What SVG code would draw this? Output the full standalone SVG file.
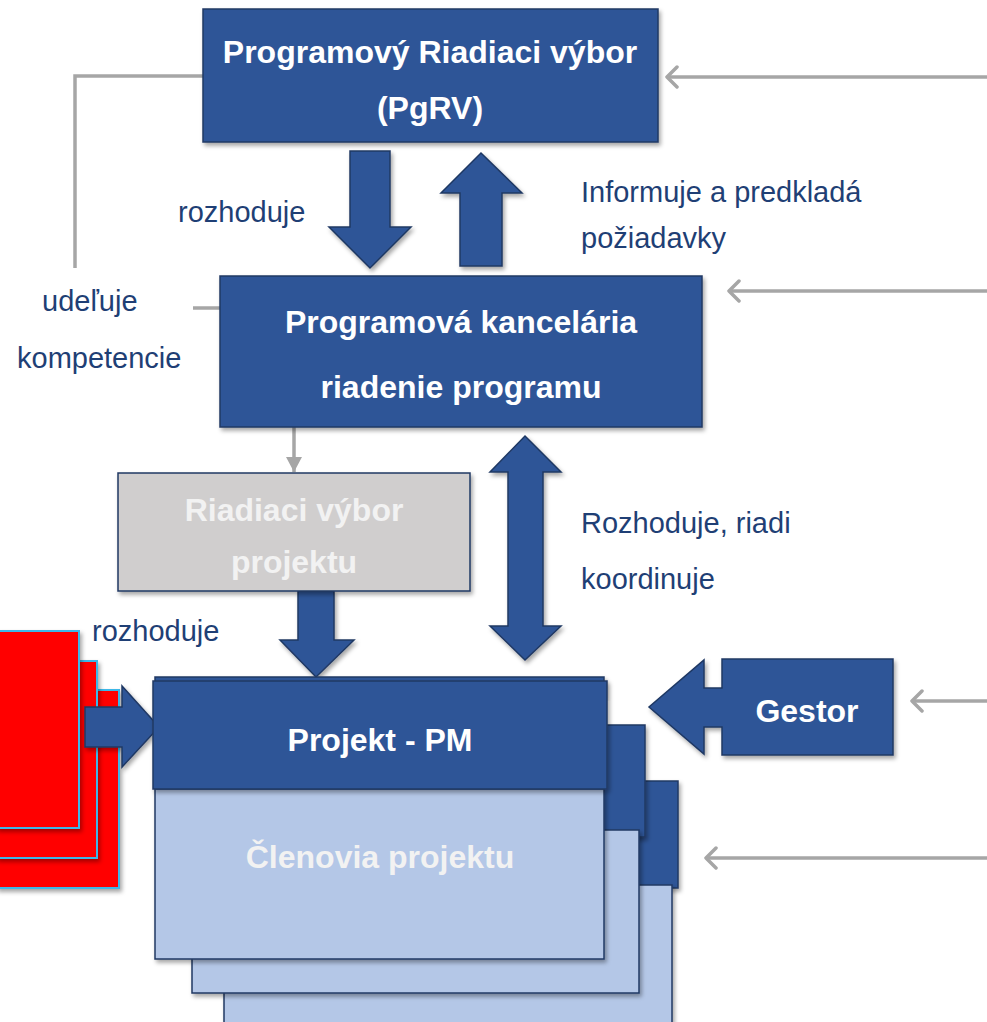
<svg xmlns="http://www.w3.org/2000/svg" width="987" height="1022" viewBox="0 0 987 1022">
<defs>
<filter id="sh" x="-20%" y="-20%" width="140%" height="140%">
<feDropShadow dx="2" dy="3" stdDeviation="2" flood-color="#000" flood-opacity="0.35"/>
</filter>
<marker id="chev" markerWidth="14" markerHeight="24" refX="12" refY="12" orient="auto" markerUnits="userSpaceOnUse" viewBox="0 0 14 24">
<path d="M2,2 L12,12 L2,22" fill="none" stroke="#A6A6A6" stroke-width="3.5" stroke-linecap="round" stroke-linejoin="round"/>
</marker>
<marker id="tri" markerWidth="16" markerHeight="16" refX="15" refY="8" orient="auto" markerUnits="userSpaceOnUse" viewBox="0 0 16 16">
<path d="M0,0 L15,8 L0,16 Z" fill="#A6A6A6"/>
</marker>
</defs>
<style>
.blue{fill:#2F5597;stroke:#1F3864;stroke-width:1.5;filter:url(#sh)}
.light{fill:#B4C7E7;stroke:#1F3864;stroke-width:1.5;filter:url(#sh)}
.grey{fill:#D0CECE;stroke:#1F3864;stroke-width:1.5;filter:url(#sh)}
.red{fill:#FF0000;stroke:#3DB8E8;stroke-width:2;filter:url(#sh)}
.gl{fill:none;stroke:#A6A6A6;stroke-width:3.5}
.t{font-family:"Liberation Sans",Arial,sans-serif;font-weight:bold;font-size:32px;fill:#FFFFFF;text-anchor:middle}
.tl{fill:#F2F2F2}
.lab{font-family:"Liberation Sans",Arial,sans-serif;font-size:29px;fill:#1F3F75}
</style>
<rect width="987" height="1022" fill="#FFFFFF"/>

<g id="connectors">
<path class="gl" d="M203,76 H75 V268"/>
<path class="gl" d="M193,308 H220"/>
<path class="gl" d="M987,77 H667" marker-end="url(#chev)"/>
<path class="gl" d="M987,291 H729" marker-end="url(#chev)"/>
<path class="gl" d="M987,701 H912" marker-end="url(#chev)"/>
<path class="gl" d="M987,858 H706" marker-end="url(#chev)"/>
<path class="gl" d="M294,427 V472" marker-end="url(#tri)"/>
<path id="arrow-pgrv-down" class="blue" d="M350,151 H390 V227 H411 L370,268 L329,227 H350 Z"/>
<path id="arrow-pk-up" class="blue" d="M460,266 V193 H441 L481,153 L522,193 H502 V266 Z"/>
<path id="arrow-double" class="blue" d="M525,436 L561,472 H543 V626 H561 L525,660 L490,626 H508 V472 H490 Z"/>
<path id="arrow-rvp-down" class="blue" d="M298,591 H334 V640 H354 L316,677 L280,640 H298 Z"/>
</g>

<g id="red-stack">
<rect class="red" x="-3" y="690" width="122" height="198"/>
<rect class="red" x="-3" y="661" width="100" height="197"/>
<rect class="red" x="-3" y="631" width="82" height="197"/>
</g>

<g id="arrow-red-right">
<path class="blue" d="M85,707 H122 V686 L159,727 L122,767 V747 H85 Z"/>
</g>

<g id="pgrv">
<rect class="blue" x="203" y="9" width="455" height="133"/>
<text class="t" x="430" y="63">Programový Riadiaci výbor</text>
<text class="t" x="430" y="119">(PgRV)</text>
</g>

<g id="programova-kancelaria">
<rect class="blue" x="220" y="276" width="482" height="151"/>
<text class="t" x="461" y="333">Programová kancelária</text>
<text class="t" x="461" y="398">riadenie programu</text>
</g>

<g id="riadiaci-vybor-projektu">
<rect class="grey" x="118" y="473" width="352" height="118"/>
<text class="t tl" x="294" y="521">Riadiaci výbor</text>
<text class="t tl" x="294" y="573">projektu</text>
</g>

<g id="projekt-stack">
<rect class="blue" x="230" y="781" width="448" height="107"/>
<rect class="light" x="224" y="885" width="448" height="145"/>
<rect class="blue" x="196" y="725" width="449" height="112"/>
<rect class="light" x="192" y="830" width="447" height="163"/>
<rect class="light" x="155" y="789" width="449" height="170"/>
<rect class="blue" x="155" y="677" width="449" height="20"/>
<rect class="blue" x="153" y="681" width="454" height="108"/>
<text class="t" x="380" y="751">Projekt - PM</text>
<text class="t tl" x="380" y="868">Členovia projektu</text>
</g>

<g id="gestor">
<path class="blue" d="M722,659 H893 V755 H722 V727 H704 V754 L649,707 L704,660 V688 H722 Z"/>
<text class="t" x="807" y="722">Gestor</text>
</g>

<g id="labels">
<text class="lab" x="178" y="222">rozhoduje</text>
<text class="lab" x="42" y="311">udeľuje</text>
<text class="lab" x="17" y="368">kompetencie</text>
<text class="lab" x="581" y="202">Informuje a predkladá</text>
<text class="lab" x="581" y="248">požiadavky</text>
<text class="lab" x="581" y="533">Rozhoduje, riadi</text>
<text class="lab" x="581" y="589">koordinuje</text>
<text class="lab" x="92" y="641">rozhoduje</text>
</g>
</svg>
